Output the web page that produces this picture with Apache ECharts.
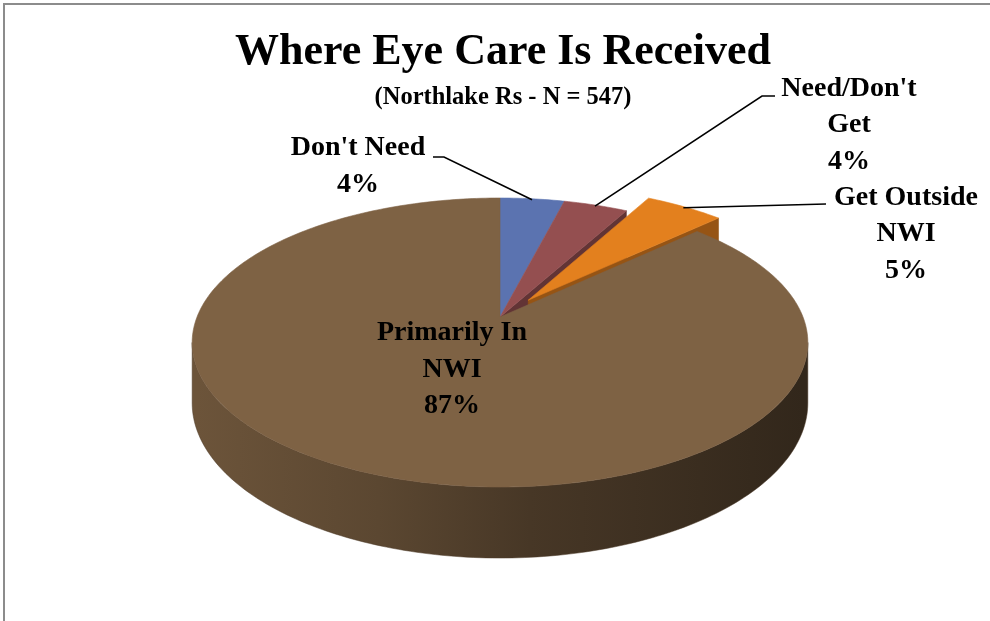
<!DOCTYPE html>
<html>
<head>
<meta charset="utf-8">
<script src="https://cdn.jsdelivr.net/npm/echarts@6/dist/echarts.min.js"></script>
<style>
  html, body { margin: 0; padding: 0; background: #ffffff; }
  #chart { width: 990px; height: 621px; }
</style>
</head>
<body>
<div id="chart"></div>
<script>
// Survey answers, in pie order (clockwise from 12 o'clock)
const categories = ["Don't Need", "Need/Don't Get", "Get Outside NWI", "Primarily In NWI"];
const shares = [4, 4, 5, 87];
const labelNames = [["Don't Need"], ["Need/Don't", "Get"], ["Get Outside", "NWI"], ["Primarily In", "NWI"]];
const explodedSlices = ["Get Outside NWI"];

const titleText = 'Where Eye Care Is Received';
const subtitleText = '(Northlake Rs - N = 547)';

const topColors = ['#5B73B0', '#944F50', '#E3801E', '#7E6244'];

// Perspective view of the tilted disc
const view = { cx: 500, cy: 317, rx: 303, ry: 140, k: 0.1765, depth: 58.5, explode: 0.155 };

// Label placement (text centre of first line) and leader-line bends
const labelLayout = [
  { x: 358, y: 148, bends: [[444, 157], [433, 157]] },
  { x: 849, y: 88.5, bends: [[762, 96], [775, 96]] },
  { x: 906, y: 197.5, bends: [[826, 204]] },
  { x: 452, y: 333, bends: null }
];
const lineGap = 36.5;
const labelFont = 'bold 28px "Liberation Serif", serif';

function shade(hex, f) {
  const n = parseInt(hex.slice(1), 16);
  const r = Math.round(((n >> 16) & 255) * f);
  const g = Math.round(((n >> 8) & 255) * f);
  const b = Math.round((n & 255) * f);
  return 'rgb(' + r + ',' + g + ',' + b + ')';
}

function project(u, v, w) {
  const d = 1 - view.k * v;
  return [view.cx + view.rx * u / d, view.cy + (view.ry * v + view.depth * w) / d];
}
function rimPoint(deg, off, w, r) {
  const a = deg * Math.PI / 180;
  const rr = r == null ? 1 : r;
  return project(off[0] + rr * Math.sin(a), off[1] - rr * Math.cos(a), w);
}
function arcPoints(a0, a1, off, w) {
  const pts = [];
  for (let a = a0; a < a1; a += 1) pts.push(rimPoint(a, off, w));
  pts.push(rimPoint(a1, off, w));
  return pts;
}

const total = shares.reduce((s, v) => s + v, 0);
const starts = [];
(function () {
  let acc = 0;
  shares.forEach(v => { starts.push(acc / total * 360); acc += v; });
})();
const isExploded = i => explodedSlices.indexOf(categories[i]) >= 0;

function renderSlice(params, api) {
  const i = params.dataIndex;
  const n = shares.length;
  const val = api.value(1);
  const a0 = starts[i];
  const a1 = a0 + val / total * 360;
  const exp = isExploded(i);
  const mid = (a0 + a1) / 2 * Math.PI / 180;
  const off = exp ? [Math.sin(mid) * view.explode, -Math.cos(mid) * view.explode] : [0, 0];
  const col = topColors[i];
  const wallCol = shade(col, 0.66);
  const children = [];
  const zTop = exp ? 12 : 6;

  // outer side, only the part facing the viewer
  const sil = Math.acos(-view.k) * 180 / Math.PI;
  const r0 = Math.max(a0, sil), r1 = Math.min(a1, 360 - sil);
  if (r1 > r0) {
    const top = arcPoints(r0, r1, off, 0);
    const bottom = arcPoints(r0, r1, off, 1).reverse();
    children.push({
      type: 'polygon',
      shape: { points: top.concat(bottom) },
      style: {
        fill: {
          type: 'linear', x: view.cx - view.rx, y: 0, x2: view.cx + view.rx, y2: 0, global: true,
          colorStops: [
            { offset: 0, color: shade(col, 0.86) },
            { offset: 0.3, color: shade(col, 0.72) },
            { offset: 0.55, color: shade(col, 0.56) },
            { offset: 1, color: shade(col, 0.40) }
          ]
        },
        stroke: shade(col, 0.6), lineWidth: 0.5
      },
      z2: 1
    });
  }

  // radial walls, visible only next to a pulled-out slice
  const walls = [
    { ang: a1, normal: a1 + 90, open: exp || isExploded((i + 1) % n) },
    { ang: a0, normal: a0 - 90, open: exp || isExploded((i - 1 + n) % n) }
  ];
  walls.forEach(wl => {
    const facing = -Math.cos(wl.normal * Math.PI / 180) > 0.01;
    if (!facing || !wl.open) return;
    children.push({
      type: 'polygon',
      shape: {
        points: [project(off[0], off[1], 0), rimPoint(wl.ang, off, 0), rimPoint(wl.ang, off, 1), project(off[0], off[1], 1)]
      },
      style: { fill: wallCol, stroke: wallCol, lineWidth: 0.5 },
      z2: 2
    });
  });

  // top face
  const apex = project(off[0], off[1], 0);
  children.push({
    type: 'polygon',
    shape: { points: [apex].concat(arcPoints(a0, a1, off, 0)) },
    style: { fill: col, stroke: col, lineWidth: 0.6 },
    z2: zTop
  });

  // data label with leader line
  const lay = labelLayout[i];
  const pct = Math.round(val / total * 100);
  const lines = labelNames[i].concat([pct + '%']);
  lines.forEach((t, j) => {
    children.push({
      type: 'text',
      style: {
        text: t, x: lay.x, y: lay.y + j * lineGap,
        font: labelFont, fill: '#000000', align: 'center', verticalAlign: 'middle'
      },
      z2: 30
    });
  });
  if (lay.bends) {
    const anchor = rimPoint((a0 + a1) / 2, off, 0, 0.99);
    children.push({
      type: 'polyline',
      shape: { points: [anchor].concat(lay.bends) },
      style: { stroke: '#000000', lineWidth: 1.6, fill: null },
      z2: 30
    });
  }

  return { type: 'group', children: children };
}

const chart = echarts.init(document.getElementById('chart'), null, { renderer: 'canvas' });
chart.setOption({
  backgroundColor: '#ffffff',
  animation: false,
  graphic: [
    {
      type: 'rect', silent: true, z: -1,
      shape: { x: 4, y: 4, width: 1200, height: 900 },
      style: { fill: null, stroke: '#8c8c8c', lineWidth: 2 }
    },
    {
      type: 'text', silent: true,
      style: {
        text: titleText, x: 503, y: 53, align: 'center', verticalAlign: 'middle',
        font: 'bold 44px "Liberation Serif", serif', fill: '#000000'
      }
    },
    {
      type: 'text', silent: true,
      style: {
        text: subtitleText, x: 503, y: 98, align: 'center', verticalAlign: 'middle',
        font: 'bold 24.5px "Liberation Serif", serif', fill: '#000000'
      }
    }
  ],
  series: [{
    type: 'custom',
    coordinateSystem: 'none',
    renderItem: renderSlice,
    data: shares.map((v, i) => ({ name: categories[i], value: [i, v] }))
  }]
});
</script>
</body>
</html>
